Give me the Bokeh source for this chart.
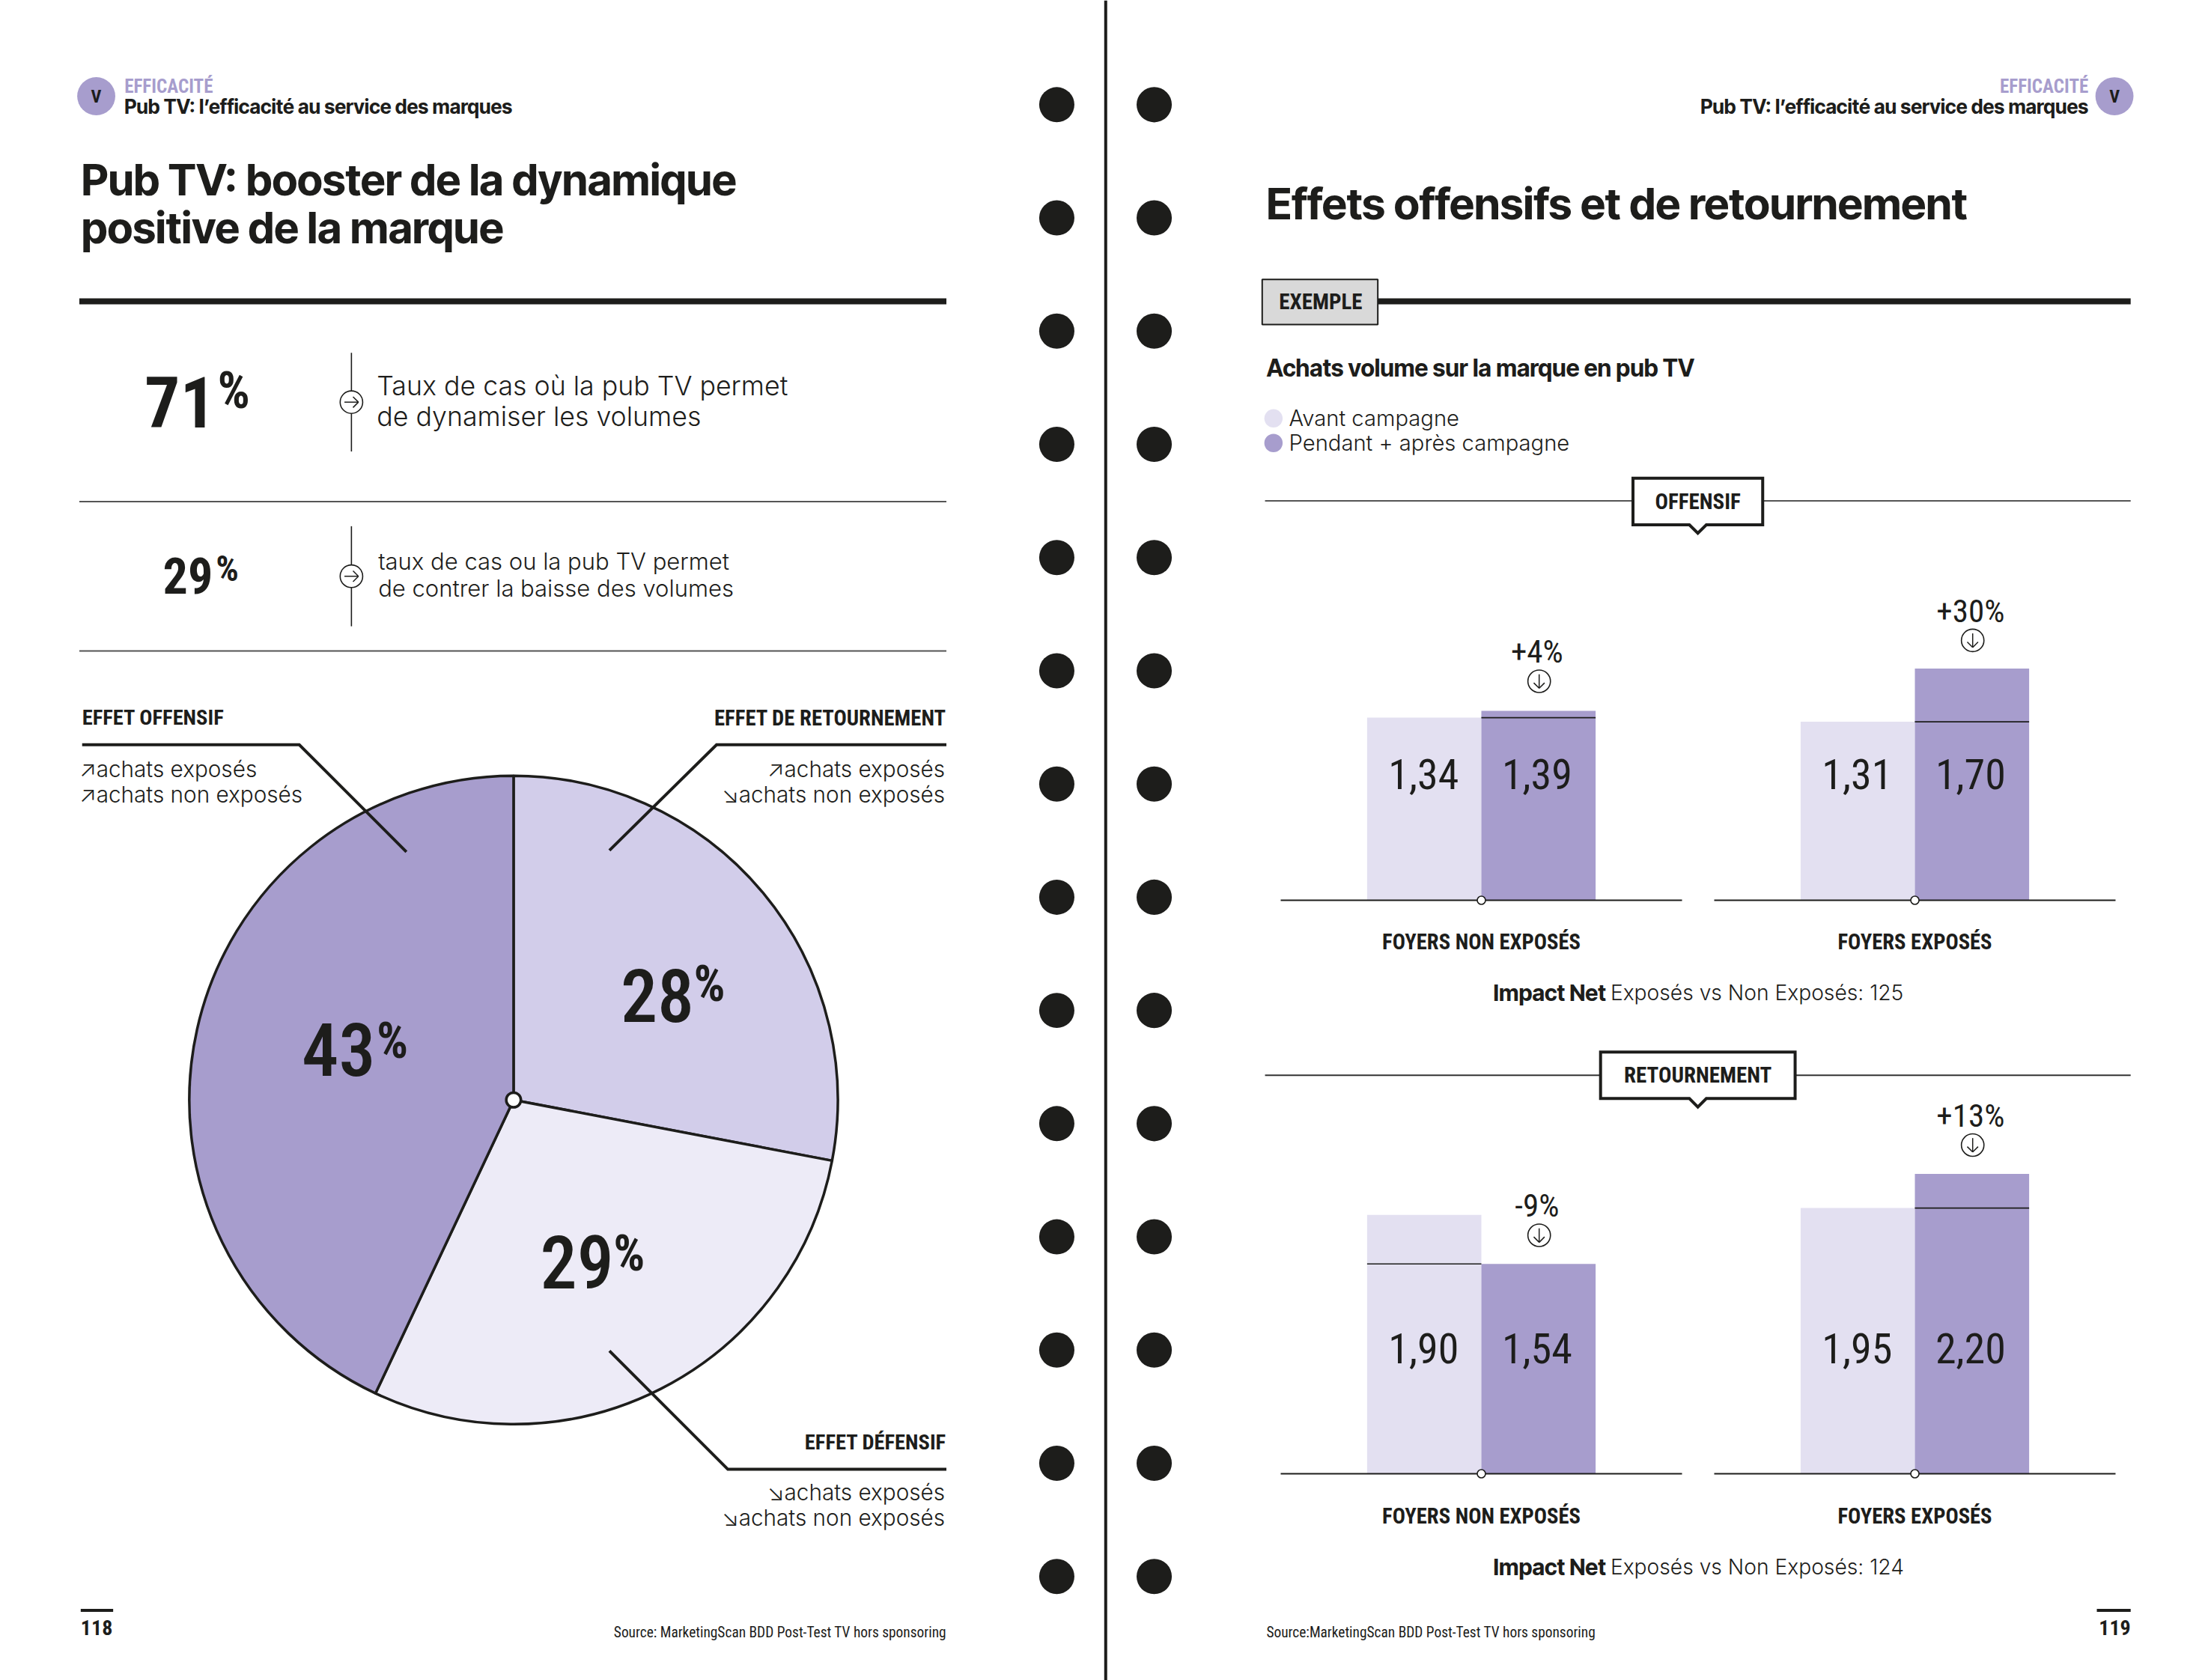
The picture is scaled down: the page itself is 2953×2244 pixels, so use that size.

import math
from bokeh.plotting import figure
from bokeh.models import Range1d
from bokeh.embed import file_html
from bokeh.resources import INLINE
from bokeh.core.properties import value

# ---------- data ----------
pie_labels = ["Effet de retournement", "Effet défensif", "Effet offensif"]
pie_values = [28, 29, 43]
kpi_values = [71, 29]
groups = ["FOYERS NON EXPOSÉS", "FOYERS EXPOSÉS"]
series = ["Avant campagne", "Pendant + après campagne"]
offensif_avant = [1.34, 1.31]
offensif_pendant = [1.39, 1.70]
offensif_delta = ["+4%", "+30%"]
offensif_impact = 125
retour_avant = [1.90, 1.95]
retour_pendant = [1.54, 2.20]
retour_delta = ["-9%", "+13%"]
retour_impact = 124

# ---------- style ----------
INK = "#1d1d1b"
C_PIE = ["#d2cdea", "#edebf7", "#a79dcd"]
C_AVANT = "#e3e0f1"
C_PENDANT = "#a79dcd"
NARROW = "Roboto Condensed"
MEDIUM = "Roboto Condensed Medium"
BODY = "Inter Light"
HEAD = "Inter Tight"
S = 1.883  # layout unit -> page pixel

W, H = 2953, 2244
p = figure(width=W, height=H, output_backend="svg", toolbar_location=None,
           x_range=Range1d(0, W), y_range=Range1d(H, 0),
           x_axis_location=None, y_axis_location=None, min_border=0,
           outline_line_color=None, background_fill_color="white", border_fill_color="white")
p.grid.visible = False


def txt(x, y, s, size, font=BODY, style="normal", color=INK, align="left", base="middle"):
    p.text([x * S], [y * S], text=[s], text_font=value(font), text_font_size=value(f"{size}px"),
           text_font_style=style, text_color=color, text_align=align, text_baseline=base)


def seg(x0, y0, x1, y1, w=2.0, color=INK):
    p.segment([x0 * S], [y0 * S], [x1 * S], [y1 * S], line_width=w, line_color=color)


def arrow_circle(cx, cy, direction, r=8.0):
    p.circle([cx * S], [cy * S], radius=r * S, fill_color="white", line_color=INK, line_width=1.6)
    a = r * 0.62
    h = r * 0.48
    if direction == "down":
        seg(cx, cy - a, cx, cy + a, 1.5)
        seg(cx - h, cy + a - h, cx, cy + a, 1.5)
        seg(cx + h, cy + a - h, cx, cy + a, 1.5)
    else:
        seg(cx - a, cy, cx + a, cy, 1.5)
        seg(cx + a - h, cy - h, cx + a, cy, 1.5)
        seg(cx + a - h, cy + h, cx + a, cy, 1.5)


def tag(x0, y0, x1, y1, label):
    p.patch([v * S for v in (x0, x1, x1, (x0 + x1) / 2 + 6, (x0 + x1) / 2, (x0 + x1) / 2 - 6, x0)],
            [v * S for v in (y0, y0, y1, y1, y1 + 6, y1, y1)],
            fill_color="white", line_color=INK, line_width=4, line_join="miter")
    txt((x0 + x1) / 2, (y0 + y1) / 2, label, 29, NARROW, "bold", align="center")


# ---------- binder ----------
for cx in (749.3, 818.4):
    p.circle([cx * S] * 14, [(74 + 80.31 * i) * S for i in range(14)], radius=12.5 * S,
             fill_color=INK, line_color=None)
seg(784, 0, 784, 1192, 4)

# ---------- headers ----------
for cx, tx, al in ((68, 88, "left"), (1499.5, 1481, "right")):
    p.circle([cx * S], [68 * S], radius=13.5 * S, fill_color=C_PENDANT, line_color=None)
    txt(cx, 68, "V", 24, NARROW, "bold", align="center")
    txt(tx, 61, "EFFICACITÉ", 25, NARROW, "bold", C_PENDANT, al)
    txt(tx, 75.5, "Pub TV: l’efficacité au service des marques", 26.3, HEAD, "bold", align=al)

# ---------- left page ----------
txt(57.5, 127, "Pub TV: booster de la dynamique", 58, HEAD, "bold")
txt(57.5, 161, "positive de la marque", 58, HEAD, "bold")
seg(56, 213.5, 671, 213.5, 8)
seg(56, 355.5, 671, 355.5, 2, "#555555")
seg(56, 461.5, 671, 461.5, 2, "#555555")

kpi_layout = [(127.5, 285, 94, 165.5, 277, 68, 250, 320, 267, 273, 295, 35.7),
              (133, 408, 66, 161, 403, 48, 373, 444, 268, 398, 417, 31)]
kpi_text = [("Taux de cas où la pub TV permet", "de dynamiser les volumes"),
            ("taux de cas ou la pub TV permet", "de contrer la baisse des volumes")]
for v, (nx, ny, ns, px_, py_, ps, v0, v1, tx, t0, t1, ts), (l0, l1) in zip(kpi_values, kpi_layout, kpi_text):
    txt(nx, ny, str(v), ns, NARROW, "bold", align="center")
    txt(px_, py_, "%", ps, NARROW, "bold", align="center")
    seg(249, v0, 249, v1, 1.6)
    arrow_circle(249, (v0 + v1) / 2, "right")
    txt(tx, t0, l0, ts)
    txt(tx, t1, l1, ts)

# pie, drawn through its own centred scale
pcx, pcy, pr = 364 * S, 780 * S, 230 * S
p.extra_x_ranges["pie"] = Range1d(-pcx, W - pcx)
p.extra_y_ranges["pie"] = Range1d(pcy - H, pcy)
total = sum(pie_values)
ang = math.pi / 2
for v, c in zip(pie_values, C_PIE):
    nxt = ang - 2 * math.pi * v / total
    p.wedge(x=[0], y=[0], radius=pr, start_angle=nxt, end_angle=ang, fill_color=c,
            line_color=INK, line_width=3.5, x_range_name="pie", y_range_name="pie")
    ang = nxt
p.circle([364 * S], [780 * S], radius=5.2 * S, fill_color="white", line_color=INK, line_width=3.5)

pie_text = [(466, 706, 503, 698), (409, 895, 446, 889), (240, 744, 278, 738)]
for v, (nx, ny, qx, qy) in zip(pie_values, pie_text):
    txt(nx, ny, str(v), 98, MEDIUM, "normal", align="center")
    txt(qx, qy, "%", 66, NARROW, "bold", align="center")

for xs, ys in (((58, 212, 288), (528, 528, 604)),
               ((671, 508, 432), (528, 528, 603)),
               ((671, 516, 432), (1042, 1042, 958))):
    p.line([v * S for v in xs], [v * S for v in ys], line_color=INK, line_width=4, line_join="miter")

txt(58, 509, "EFFET OFFENSIF", 28.5, NARROW, "bold")
txt(56, 545, "↗achats exposés", 29.7)
txt(56, 563, "↗achats non exposés", 29.7)
txt(671, 509, "EFFET DE RETOURNEMENT", 28.7, NARROW, "bold", align="right")
txt(670, 545, "↗achats exposés", 29.7, align="right")
txt(670, 563, "↘achats non exposés", 29.7, align="right")
txt(671, 1023, "EFFET DÉFENSIF", 28.5, NARROW, "bold", align="right")
txt(670, 1058, "↘achats exposés", 29.7, align="right")
txt(670, 1076, "↘achats non exposés", 29.7, align="right")

seg(57, 1142, 80, 1142, 4)
txt(57, 1154.5, "118", 28, NARROW, "bold")
txt(671, 1157.5, "Source: MarketingScan BDD Post-Test TV hors sponsoring", 19.4, NARROW, align="right")

# ---------- right page ----------
txt(898, 144, "Effets offensifs et de retournement", 58.5, HEAD, "bold")
seg(977, 213.5, 1511, 213.5, 8)
p.quad(left=[895 * S], right=[977 * S], top=[198 * S], bottom=[230 * S], fill_color="#d9d9d9",
       line_color=INK, line_width=2)
txt(936.5, 214, "EXEMPLE", 29, NARROW, "bold", align="center")
txt(898, 261, "Achats volume sur la marque en pub TV", 31.5, HEAD, "bold")
for y, c, s in zip((296.5, 314), (C_AVANT, C_PENDANT), series):
    p.circle([903 * S], [y * S], radius=6.5 * S, fill_color=c, line_color=None)
    txt(914, y, s, 29.2)

seg(897, 355, 1511, 355, 2, "#555555")
tag(1158, 339, 1250, 372, "OFFENSIF")
seg(897, 762.5, 1511, 762.5, 2, "#333333")
tag(1135, 746, 1273, 779, "RETOURNEMENT")

BAR_W = 152.6
CENTERS = [1978, 2557]
UNIT = 182.0  # pixels per unit of volume


def bars(name, base, avant, pendant, deltas, delta_y, impact, cat_y, impact_y, val_y):
    p.extra_y_ranges[name] = Range1d((base - H) / UNIT, base / UNIT)
    p.vbar(x=[c - BAR_W / 2 for c in CENTERS], width=BAR_W, bottom=0, top=avant,
           fill_color=C_AVANT, line_color=None, y_range_name=name)
    p.vbar(x=[c + BAR_W / 2 for c in CENTERS], width=BAR_W, bottom=0, top=pendant,
           fill_color=C_PENDANT, line_color=None, y_range_name=name)
    for i, c in enumerate(CENTERS):
        a, b = avant[i], pendant[i]
        low = min(a, b)
        x0, x1 = (c, c + BAR_W) if b > a else (c - BAR_W, c)
        p.segment([x0], [low], [x1], [low], line_color=INK, line_width=1.6, y_range_name=name)
        p.segment([c - 268], [0], [c + 268], [0], line_color=INK, line_width=2, y_range_name=name)
        p.circle([c], [0], radius=5.5, fill_color="white", line_color=INK, line_width=1.6, y_range_name=name)
        d = c / S
        txt(d - 41, val_y, f"{a:.2f}".replace(".", ","), 56, NARROW, align="center")
        txt(d + 39.5, val_y, f"{b:.2f}".replace(".", ","), 56, NARROW, align="center")
        txt(d + 39.5, delta_y[i], deltas[i], 43, NARROW, align="center")
        arrow_circle(d + 41, delta_y[i] + 21, "down")
        txt(d, cat_y, groups[i], 28.6, NARROW, "bold", align="center")
    txt(1059, impact_y, "Impact Net", 30, HEAD, "bold")
    txt(1142, impact_y, f"Exposés vs Non Exposés: {impact}", 28.2)


bars("off", 1202, offensif_avant, offensif_pendant, offensif_delta, [462, 433], offensif_impact, 668, 704, 549)
bars("ret", 1968, retour_avant, retour_pendant, retour_delta, [855, 791], retour_impact, 1075, 1111, 956)

txt(898, 1157.5, "Source:MarketingScan BDD Post-Test TV hors sponsoring", 19.4, NARROW)
seg(1487, 1142, 1511, 1142, 4)
txt(1511, 1154.5, "119", 28, NARROW, "bold", align="right")

open("out.html", "w").write(file_html(p, INLINE))
